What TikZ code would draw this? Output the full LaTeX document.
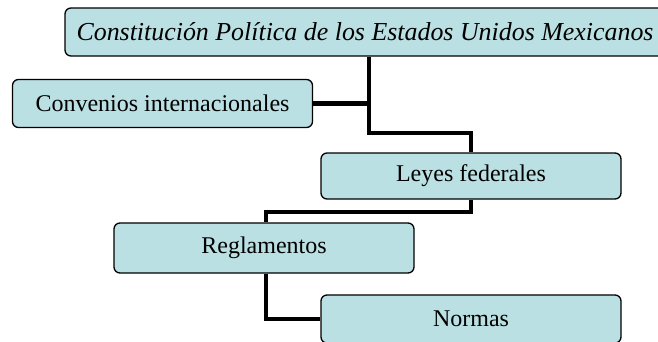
\documentclass[tikz,border=0pt]{standalone}
\usepackage{fontspec}
\setmainfont{Liberation Serif}
\usetikzlibrary{calc}
\definecolor{cajafill}{HTML}{BAE0E3}

\begin{document}
\begin{tikzpicture}[x=1pt, y=-1pt,
    caja/.style={draw=black, line width=1.3pt, fill=cajafill, rounded corners=6pt,
      minimum width=300pt, minimum height=48pt, inner sep=0pt,
      font=\fontsize{24}{28}\selectfont},
    enlace/.style={line width=4.5pt, black}]
  \useasboundingbox (0,0) rectangle (658,341);

  % Cajas
  \node[caja, minimum width=600pt, font=\fontsize{25.9}{30}\selectfont\itshape] (cpeum) at (365,32) {Constitución Política de los Estados Unidos Mexicanos};
  \node[caja] (convenios) at (162.5,103.5) {Convenios internacionales};
  \node[caja, minimum height=46pt] (leyes) at (471,176) {Leyes federales};
  \node[caja, minimum height=50pt] (reglamentos) at (264,248) {Reglamentos};
  \node[caja] (normas) at (471,319) {Normas};

  % Enlaces
  \coordinate (j1) at (369,133);
  \coordinate (j2) at (266,212);
  \draw[enlace] (cpeum.south -| j1) -- (j1) -| (leyes.north);
  \draw[enlace] (convenios.east) -- (convenios.east -| j1);
  \draw[enlace] (leyes.south) |- (j2) -- (reglamentos.north -| j2);
  \draw[enlace] (reglamentos.south -| j2) |- (normas.west);
\end{tikzpicture}
\end{document}
